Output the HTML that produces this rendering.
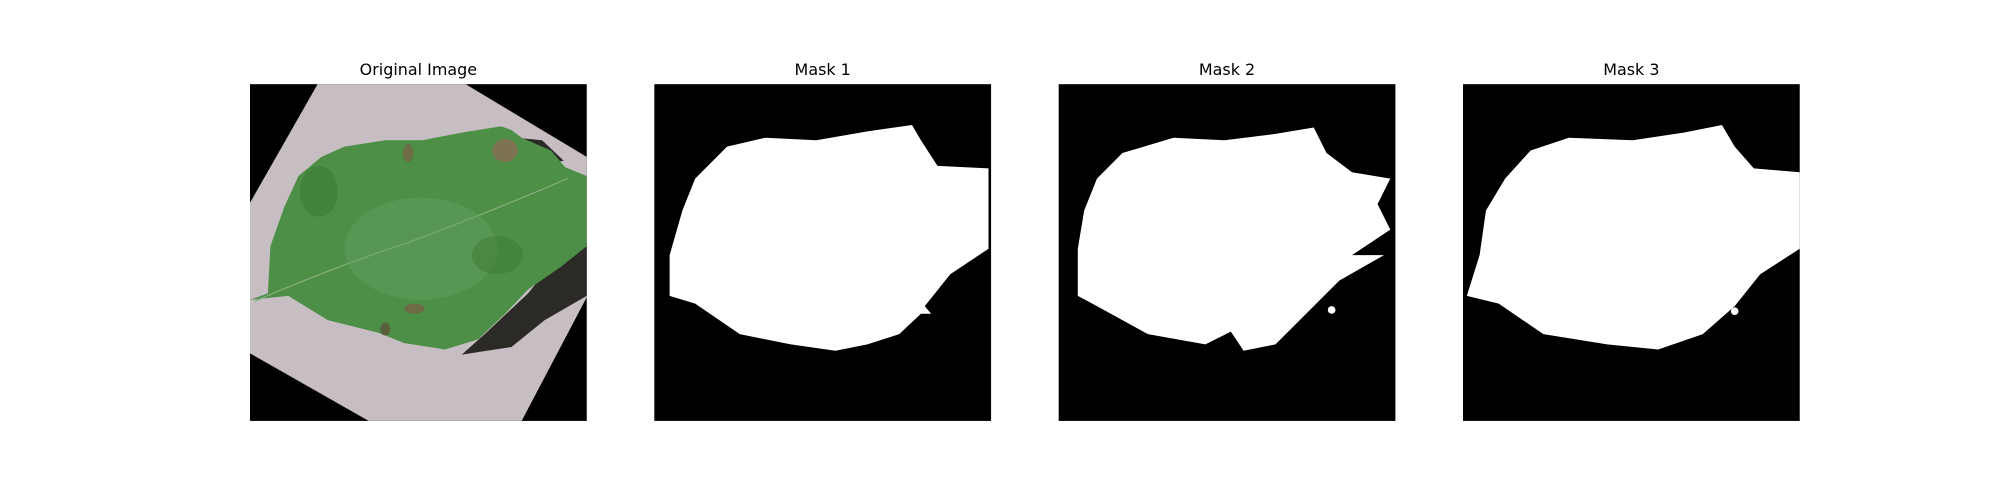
<!DOCTYPE html>
<html><head><meta charset="utf-8"><style>
html,body{margin:0;padding:0;background:#fff;width:2000px;height:500px;overflow:hidden}
svg{display:block}
text{font-family:"DejaVu Sans","Liberation Sans",sans-serif;font-size:12.5px;fill:#000}
</style></head><body>
<svg width="2000" height="500" viewBox="0 0 1568 392" preserveAspectRatio="none">
<g>
<text x="328" y="59" text-anchor="middle">Original Image</text>
<rect x="196" y="66" width="264" height="264" fill="#000"/>
<polygon points="249,66 365,66 460,123 460,233 409,330 289,330 196,277 196,159" fill="#c7bec3"/>
<polygon points="440,198 460,190 460,232 427,251 401,272 362,278 380,262 414,230" fill="#2b2a27"/>
<polygon points="405,108 425,110 442,126 430,128 412,118" fill="#2b2a27"/>
<path d="M196,235 L210,230 L212,193 L223,162 L234,138 L252,123 L270,115 L302,110 L331,110 L362,104 L393,99 L401,102 L409,108 L432,118 L443,131 L460,138 L460,193 L440,209 L414,227 L396,246 L375,266 L349,274 L317,269 L297,261 L257,251 L226,232 Z" fill="#4e8f47"/>
<path d="M200,236 Q260,210 320,190 Q380,168 445,140" stroke="#82ad7c" stroke-width="1" fill="none"/>
<ellipse cx="330" cy="195" rx="60" ry="40" fill="#6aa266" opacity="0.4"/>
<ellipse cx="396" cy="118" rx="10" ry="9" fill="#8a6a55" opacity="0.8"/>
<ellipse cx="320" cy="120" rx="4" ry="7" fill="#7a5d46" opacity="0.7"/>
<ellipse cx="325" cy="242" rx="8" ry="4" fill="#7a5d46" opacity="0.7"/>
<ellipse cx="302" cy="258" rx="4" ry="5" fill="#5d4a36" opacity="0.7"/>
<ellipse cx="250" cy="150" rx="15" ry="20" fill="#3c7a34" opacity="0.6"/>
<ellipse cx="390" cy="200" rx="20" ry="15" fill="#3c7a34" opacity="0.5"/>
</g>
<g>
<text x="645" y="59" text-anchor="middle">Mask 1</text>
<rect x="513" y="66" width="264" height="264" fill="#000"/>
<path d="M545,140 L570,115 L600,108 L640,110 L680,103 L715,98 L722,110 L735,130 L775,132 L775,195 L745,215 L725,240 L730,246 L722,246 L705,262 L680,270 L655,275 L620,270 L580,262 L545,238 L525,232 L525,200 L535,165 Z" fill="#fff"/>
</g>
<g>
<text x="962" y="59" text-anchor="middle">Mask 2</text>
<rect x="830" y="66" width="264" height="264" fill="#000"/>
<path d="M860,140 L880,120 L920,108 L960,110 L1000,105 L1030,100 L1040,120 L1060,135 L1090,140 L1080,160 L1090,180 L1060,200 L1085,200 L1050,220 L1030,240 L1000,270 L975,275 L965,260 L945,270 L900,262 L860,240 L845,232 L845,195 L850,165 Z" fill="#fff"/>
<circle cx="1044" cy="243" r="3" fill="#fff"/>
</g>
<g>
<text x="1279" y="59" text-anchor="middle">Mask 3</text>
<rect x="1147" y="66" width="264" height="264" fill="#000"/>
<path d="M1180,140 L1200,118 L1230,108 L1280,110 L1320,104 L1350,98 L1360,115 L1375,132 L1411,135 L1411,195 L1380,215 L1360,240 L1335,262 L1300,274 L1260,270 L1210,262 L1175,238 L1150,232 L1160,200 L1165,165 Z" fill="#fff"/>
<circle cx="1360" cy="244" r="3" fill="#fff"/>
</g>
</svg>
</body></html>
